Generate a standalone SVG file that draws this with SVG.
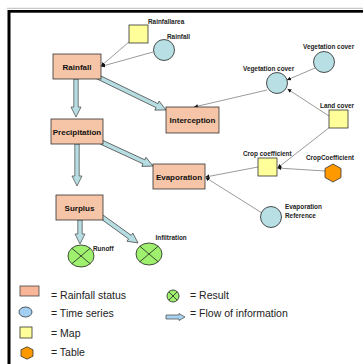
<svg xmlns="http://www.w3.org/2000/svg" width="363" height="364" viewBox="0 0 363 364">
<defs>
<style>
.box{fill:#f6c4a6;stroke:#333;stroke-width:0.8}
.ts{fill:#b8dfe3;stroke:#222;stroke-width:0.8}
.map{fill:#ffff99;stroke:#333;stroke-width:0.8}
.tab{fill:#ff9900;stroke:#333;stroke-width:0.8}
.res{fill:#9ef06e;stroke:#222;stroke-width:0.8}
.x{stroke:#222;stroke-width:0.8}
.flow{fill:#b6dde2;stroke:#444;stroke-width:0.7}
.lbl{font-family:"Liberation Sans",Arial,sans-serif;font-weight:bold;font-size:8px;fill:#111;text-anchor:middle}
.sm{font-family:"Liberation Sans",Arial,sans-serif;font-weight:bold;font-size:6.4px;fill:#222}
.leg{font-family:"Liberation Sans",Arial,sans-serif;font-size:10.5px;fill:#222}
.con{stroke:#555;stroke-width:0.6;fill:none;marker-end:url(#ah)}
</style>
<marker id="ah" markerUnits="userSpaceOnUse" markerWidth="5" markerHeight="4" refX="4" refY="2" orient="auto">
<path d="M0,0 L4,2 L0,4 z" fill="#111"/>
</marker>
</defs>
<rect width="363" height="364" fill="#fff"/>
<g id="frame">
<line x1="7" y1="8.3" x2="363" y2="8.3" stroke="#bbb" stroke-width="1"/>
<rect x="8" y="10" width="355" height="2.7" fill="#000"/>
<rect x="7.5" y="10" width="3" height="354" fill="#000"/>
</g>
<g id="connectors">
<line class="con" x1="129" y1="42" x2="101" y2="66"/>
<line class="con" x1="153" y1="52" x2="101" y2="66.5"/>
<line class="con" x1="315" y1="68" x2="287" y2="80"/>
<line class="con" x1="329" y1="116" x2="287.5" y2="89"/>
<line class="con" x1="267" y1="90" x2="194" y2="107"/>
<line class="con" x1="330" y1="127" x2="277.5" y2="168"/>
<line class="con" x1="325" y1="171" x2="277.5" y2="168"/>
<line class="con" x1="258" y1="167" x2="205.5" y2="177"/>
<line class="con" x1="262" y1="213" x2="205.5" y2="177.5"/>
<polygon class="flow" transform="translate(76,79) rotate(90)" points="0,-2.2 28,-2.2 28,-5 38,0 28,5 28,2.2 0,2.2"/>
<polygon class="flow" transform="translate(96,76) rotate(25.9)" points="0,-2.2 67.8,-2.2 67.8,-5 77.8,0 67.8,5 67.8,2.2 0,2.2"/>
<polygon class="flow" transform="translate(77,144) rotate(90)" points="0,-2.2 32,-2.2 32,-5 42,0 32,5 32,2.2 0,2.2"/>
<polygon class="flow" transform="translate(101,142) rotate(24.8)" points="0,-2.2 47.3,-2.2 47.3,-5 57.3,0 47.3,5 47.3,2.2 0,2.2"/>
<polygon class="flow" transform="translate(80,220) rotate(90)" points="0,-2.2 14,-2.2 14,-5 24,0 14,5 14,2.2 0,2.2"/>
<polygon class="flow" transform="translate(102,217) rotate(35.8)" points="0,-2.2 34.4,-2.2 34.4,-5 44.4,0 34.4,5 34.4,2.2 0,2.2"/>
</g>
<g id="rainfall"><rect class="box" x="53" y="54" width="48" height="25"/><text class="lbl" x="77" y="70">Rainfall</text></g>
<g id="precipitation"><rect class="box" x="51" y="119" width="52" height="25"/><text class="lbl" x="77" y="134.5">Precipitation</text></g>
<g id="surplus"><rect class="box" x="56" y="195" width="47" height="25"/><text class="lbl" x="79.5" y="210.5">Surplus</text></g>
<g id="interception"><rect class="box" x="166" y="107" width="53" height="26"/><text class="lbl" x="192.5" y="123">Interception</text></g>
<g id="evaporation"><rect class="box" x="153" y="164" width="52" height="25"/><text class="lbl" x="179" y="179.5">Evaporation</text></g>
<g id="rainfallarea"><rect class="map" x="129" y="25" width="19" height="18"/><text class="sm" x="148" y="24">Rainfallarea</text></g>
<g id="rainfall-ts"><circle class="ts" cx="164" cy="50" r="10.5"/><text class="sm" x="167" y="39">Rainfall</text></g>
<g id="vegcover-top"><circle class="ts" cx="324" cy="62" r="10.5"/><text class="sm" x="303" y="49">Vegetation cover</text></g>
<g id="vegcover-mid"><circle class="ts" cx="277" cy="83" r="10.5"/><text class="sm" x="243" y="71">Vegetation cover</text></g>
<g id="landcover"><rect class="map" x="329" y="110" width="19" height="18"/><text class="sm" x="320" y="108">Land cover</text></g>
<g id="cropcoef-map"><rect class="map" x="258" y="158" width="19" height="18"/><text class="sm" x="243" y="156">Crop coefficient</text></g>
<g id="cropcoef-table"><polygon class="tab" points="333,164 341,168.5 341,177.5 333,182 325,177.5 325,168.5"/><text class="sm" x="306" y="160">CropCoefficient</text></g>
<g id="evapref"><circle class="ts" cx="271" cy="217" r="10.5"/><text class="sm" x="285" y="209">Evaporation</text><text class="sm" x="285" y="218">Reference</text></g>
<g id="runoff"><ellipse class="res" cx="81" cy="256" rx="13" ry="11"/><line class="x" x1="71.8" y1="248.2" x2="90.2" y2="263.8"/><line class="x" x1="90.2" y1="248.2" x2="71.8" y2="263.8"/><text class="sm" x="93" y="250.5">Runoff</text></g>
<g id="infiltration"><ellipse class="res" cx="149" cy="254" rx="13" ry="11"/><line class="x" x1="139.8" y1="246.2" x2="158.2" y2="261.8"/><line class="x" x1="158.2" y1="246.2" x2="139.8" y2="261.8"/><text class="sm" x="155.5" y="240">Infiltration</text></g>
<g id="legend">
<rect x="20" y="286" width="19" height="10" fill="#f9b598" stroke="#444" stroke-width="0.8"/>
<text class="leg" x="51" y="298.5">= Rainfall status</text>
<ellipse cx="25.5" cy="312" rx="6.5" ry="5" fill="#a3cff5" stroke="#333" stroke-width="0.8"/>
<text class="leg" x="51" y="317">= Time series</text>
<rect x="20" y="327" width="12" height="11" class="map"/>
<text class="leg" x="51" y="336.5">= Map</text>
<polygon class="tab" points="27,346.8 33,349.8 33,356.2 27,359.2 21,356.2 21,349.8"/>
<text class="leg" x="51" y="356">= Table</text>
<circle class="res" cx="173" cy="296" r="6"/>
<line class="x" x1="168.8" y1="291.8" x2="177.2" y2="300.2"/><line class="x" x1="177.2" y1="291.8" x2="168.8" y2="300.2"/>
<text class="leg" x="190" y="298.5">= Result</text>
<polygon class="flow" transform="translate(166,317)" points="0,-2 13,-2 13,-3.5 19,0 13,3.5 13,2 0,2" style="fill:#a9d3f0"/>
<text class="leg" x="190" y="317">= Flow of information</text>
</g>
</svg>
